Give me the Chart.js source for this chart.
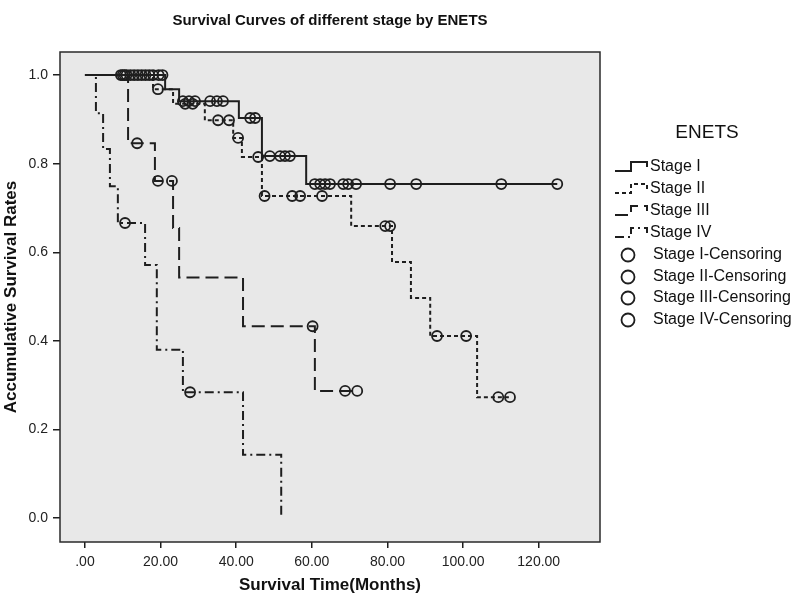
<!DOCTYPE html>
<html>
<head>
<meta charset="utf-8">
<script src="https://cdn.jsdelivr.net/npm/chart.js@4.4.1/dist/chart.umd.min.js"></script>
<style>
  html, body { margin: 0; padding: 0; background: #fff; }
  #wrap { width: 800px; height: 603px; }
</style>
</head>
<body>
<div id="wrap"><canvas id="chart" width="800" height="603"></canvas></div>
<script>
// values (months, survival rate)
const chartTitle = 'Survival Curves of different stage by ENETS';
const xTitle = 'Survival Time(Months)';
const yTitle = 'Accumulative Survival Rates';
const legendTitle = 'ENETS';
const stageNames = ['Stage I', 'Stage II', 'Stage III', 'Stage IV'];
const xTicks = [0, 20, 40, 60, 80, 100, 120];
const yTicks = [0, 0.2, 0.4, 0.6, 0.8, 1.0];

const stage1Time = [0, 21.2, 24.9, 40.7, 46.8, 58.5, 124.9];
const stage1Surv = [1.0, 0.968, 0.941, 0.903, 0.817, 0.754, 0.754];
const stage1CensTime = [10, 12, 14, 16, 18, 19.5, 20.5, 25.9, 27.5, 29.1, 33.1, 34.9, 36.5, 43.7, 45.0,
  48.9, 51.6, 52.9, 54.2, 60.8, 62.2, 63.5, 64.8, 68.3, 69.6, 71.7, 80.7, 87.6, 110.1, 124.9];
const stage1CensSurv = [1, 1, 1, 1, 1, 1, 1, 0.941, 0.941, 0.941, 0.941, 0.941, 0.941, 0.903, 0.903,
  0.817, 0.817, 0.817, 0.817, 0.754, 0.754, 0.754, 0.754, 0.754, 0.754, 0.754, 0.754, 0.754, 0.754, 0.754];

const stage2Time = [0, 18, 23.3, 31.7, 39.2, 41.5, 46.8, 70.4, 81.2, 86.2, 91.3, 103.7, 112.4];
const stage2Surv = [1.0, 0.968, 0.935, 0.898, 0.858, 0.815, 0.727, 0.659, 0.578, 0.497, 0.411, 0.273, 0.273];
const stage2CensTime = [9.5, 11, 13, 15, 17, 19.3, 26.5, 28.5, 35.2, 38.1, 40.5, 45.8, 47.5, 54.8, 56.9, 62.7,
  79.4, 80.7, 93.1, 100.8, 109.3, 112.4];
const stage2CensSurv = [1, 1, 1, 1, 1, 0.968, 0.935, 0.935, 0.898, 0.898, 0.858, 0.815, 0.727, 0.727, 0.727, 0.727,
  0.659, 0.659, 0.411, 0.411, 0.273, 0.273];

const stage3Time = [0, 11.4, 18.5, 23.3, 24.9, 41.8, 60.8, 72.0];
const stage3Surv = [1.0, 0.846, 0.761, 0.655, 0.543, 0.433, 0.287, 0.287];
const stage3CensTime = [10.5, 13.8, 19.3, 23.0, 60.2, 68.8, 72.0];
const stage3CensSurv = [1, 0.846, 0.761, 0.761, 0.433, 0.287, 0.287];

const stage4Time = [0, 2.9, 4.8, 6.6, 8.7, 15.9, 19.0, 25.9, 41.8, 51.9];
const stage4Surv = [1.0, 0.914, 0.833, 0.749, 0.666, 0.571, 0.38, 0.284, 0.143, 0];
const stage4CensTime = [10.6, 27.8];
const stage4CensSurv = [0.666, 0.284];

const ink = '#1e1e1e';
const toPoints = (xs, ys) => xs.map((x, i) => ({ x: x, y: ys[i] }));

function curve(label, xs, ys, dash) {
  return {
    label: label,
    data: toPoints(xs, ys),
    stepped: true,
    borderColor: ink,
    borderWidth: 2,
    borderDash: dash,
    pointRadius: 0,
    fill: false
  };
}
function censor(label, xs, ys) {
  return {
    label: label,
    data: toPoints(xs, ys),
    showLine: false,
    pointStyle: 'circle',
    pointRadius: 5,
    pointBorderWidth: 1.8,
    pointBorderColor: ink,
    pointBackgroundColor: 'rgba(0,0,0,0)'
  };
}

const datasets = [
  curve(stageNames[0], stage1Time, stage1Surv, []),
  curve(stageNames[1], stage2Time, stage2Surv, [4, 3]),
  curve(stageNames[2], stage3Time, stage3Surv, [13, 6]),
  curve(stageNames[3], stage4Time, stage4Surv, [9, 4, 2, 4]),
  censor(stageNames[0] + '-Censoring', stage1CensTime, stage1CensSurv),
  censor(stageNames[1] + '-Censoring', stage2CensTime, stage2CensSurv),
  censor(stageNames[2] + '-Censoring', stage3CensTime, stage3CensSurv),
  censor(stageNames[3] + '-Censoring', stage4CensTime, stage4CensSurv)
];

const plotBox = {
  id: 'plotBox',
  beforeDatasetsDraw(chart) {
    const a = chart.chartArea, ctx = chart.ctx;
    ctx.save();
    ctx.fillStyle = '#e8e8e8';
    ctx.fillRect(a.left, a.top, a.right - a.left, a.bottom - a.top);
    ctx.restore();
  },
  afterDatasetsDraw(chart) {
    const a = chart.chartArea, ctx = chart.ctx;
    ctx.save();
    ctx.strokeStyle = '#2a2a2a';
    ctx.lineWidth = 1.5;
    ctx.strokeRect(a.left, a.top, a.right - a.left, a.bottom - a.top);
    ctx.restore();
  }
};

// SPSS style legend to the right of the plot
const enetsLegend = {
  id: 'enetsLegend',
  afterDraw(chart) {
    const ctx = chart.ctx;
    ctx.save();
    ctx.fillStyle = '#111';
    ctx.textBaseline = 'middle';
    ctx.textAlign = 'center';
    ctx.font = '19px "Liberation Sans", Arial, sans-serif';
    ctx.fillText(legendTitle, 707, 133);

    ctx.textAlign = 'left';
    ctx.font = '16px "Liberation Sans", Arial, sans-serif';
    const rows = [167, 189, 211, 233, 255, 277, 298, 320];
    datasets.forEach((ds, i) => {
      const y = rows[i];
      if (i < 4) {
        ctx.strokeStyle = ink;
        ctx.lineWidth = 2;
        ctx.setLineDash(ds.borderDash);
        ctx.beginPath();
        ctx.moveTo(615, y + 4);
        ctx.lineTo(631, y + 4);
        ctx.lineTo(631, y - 5);
        ctx.lineTo(647, y - 5);
        ctx.lineTo(647, y);
        ctx.stroke();
        ctx.setLineDash([]);
        ctx.fillText(ds.label, 650, y);
      } else {
        ctx.strokeStyle = ink;
        ctx.lineWidth = 1.8;
        ctx.beginPath();
        ctx.arc(628, y, 6.5, 0, Math.PI * 2);
        ctx.stroke();
        ctx.fillText(ds.label, 653, y);
      }
    });
    ctx.restore();
  }
};

const tickFont = { family: '"Liberation Sans", Arial, sans-serif', size: 14 };
const titleFont = { family: '"Liberation Sans", Arial, sans-serif', size: 17, weight: 'bold' };

new Chart(document.getElementById('chart').getContext('2d'), {
  type: 'line',
  data: { datasets: datasets },
  options: {
    responsive: false,
    animation: false,
    events: [],
    layout: { padding: { left: 0, right: 200, top: 0, bottom: 0 } },
    plugins: {
      legend: { display: false },
      tooltip: { enabled: false },
      title: {
        display: true,
        text: chartTitle,
        fullSize: false,
        color: '#111',
        font: { family: '"Liberation Sans", Arial, sans-serif', size: 15, weight: 'bold' },
        padding: { top: 12, bottom: 22 }
      }
    },
    scales: {
      x: {
        type: 'linear',
        min: -6.6,
        max: 136.2,
        afterBuildTicks: s => { s.ticks = xTicks.map(v => ({ value: v })); },
        afterFit: s => { s.height = 61; },
        border: { display: false },
        grid: { drawOnChartArea: false, drawTicks: true, tickLength: 6, color: ink, lineWidth: 1.5 },
        ticks: {
          font: tickFont, color: '#222', padding: 6, maxRotation: 0,
          callback: v => v === 0 ? '.00' : v.toFixed(2)
        },
        title: { display: true, text: xTitle, color: '#111', font: titleFont, padding: { top: 0, bottom: 7 } }
      },
      y: {
        type: 'linear',
        min: -0.054,
        max: 1.052,
        afterBuildTicks: s => { s.ticks = yTicks.map(v => ({ value: v })); },
        afterFit: s => { s.width = 60; },
        border: { display: false },
        grid: { drawOnChartArea: false, drawTicks: true, tickLength: 7, color: ink, lineWidth: 1.5 },
        ticks: { font: tickFont, color: '#222', padding: 5, callback: v => v.toFixed(1) },
        title: { display: true, text: yTitle, color: '#111', font: titleFont, padding: { top: 1, bottom: 0 } }
      }
    }
  },
  plugins: [plotBox, enetsLegend]
});
</script>
</body>
</html>
